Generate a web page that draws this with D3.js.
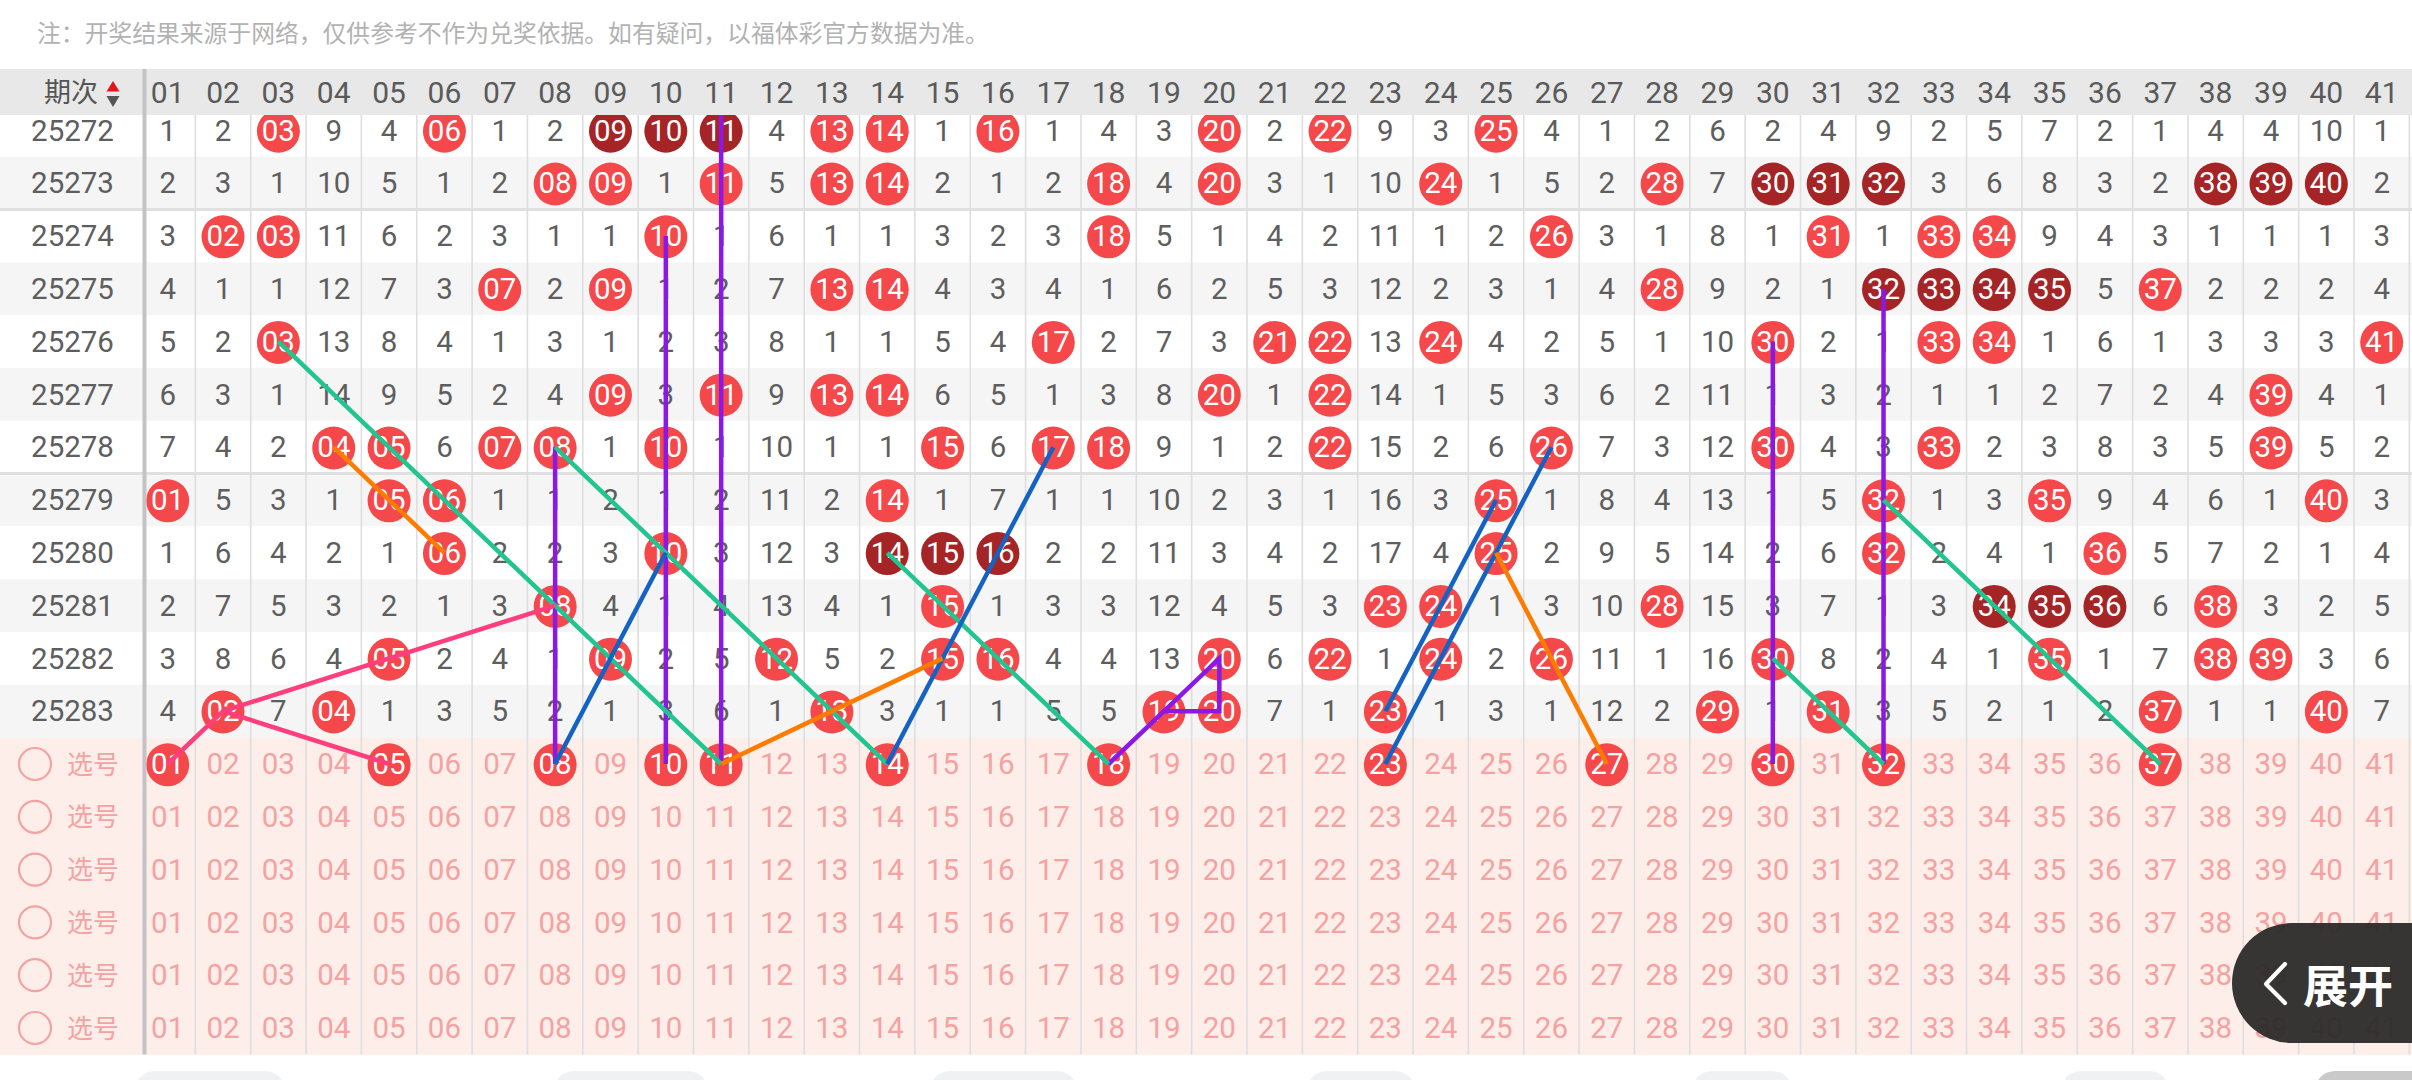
<!DOCTYPE html>
<html><head><meta charset="utf-8">
<script src="https://cdn.jsdelivr.net/npm/d3@7"></script>
<style>html,body{margin:0;padding:0;background:#fff;overflow:hidden}svg{display:block}</style>
</head><body><svg id="c" width="2412" height="1080"></svg>
<script>
// ---------------- data ----------------
const noteText = "注：开奖结果来源于网络，仅供参考不作为兑奖依据。如有疑问，以福体彩官方数据为准。";
const headerLabel = "期次";
const selectLabel = "选号";
const expandLabel = "展开";
const numbers = ["01","02","03","04","05","06","07","08","09","10","11","12","13","14","15","16","17","18","19","20","21","22","23","24","25","26","27","28","29","30","31","32","33","34","35","36","37","38","39","40","41"];
const periods = ["25272","25273","25274","25275","25276","25277","25278","25279","25280","25281","25282","25283"];
// omission per number (0 = drawn in that period)
const r25272 = [1,2,0,9,4,0,1,2,0,0, 0,4,0,0,1,0,1,4,3,0, 2,0,9,3,0,4,1,2,6,2, 4,9,2,5,7,2,1,4,4,10, 1];
const r25273 = [2,3,1,10,5,1,2,0,0,1, 0,5,0,0,2,1,2,0,4,0, 3,1,10,0,1,5,2,0,7,0, 0,0,3,6,8,3,2,0,0,0, 2];
const r25274 = [3,0,0,11,6,2,3,1,1,0, 1,6,1,1,3,2,3,0,5,1, 4,2,11,1,2,0,3,1,8,1, 0,1,0,0,9,4,3,1,1,1, 3];
const r25275 = [4,1,1,12,7,3,0,2,0,1, 2,7,0,0,4,3,4,1,6,2, 5,3,12,2,3,1,4,0,9,2, 1,0,0,0,0,5,0,2,2,2, 4];
const r25276 = [5,2,0,13,8,4,1,3,1,2, 3,8,1,1,5,4,0,2,7,3, 0,0,13,0,4,2,5,1,10,0, 2,1,0,0,1,6,1,3,3,3, 0];
const r25277 = [6,3,1,14,9,5,2,4,0,3, 0,9,0,0,6,5,1,3,8,0, 1,0,14,1,5,3,6,2,11,1, 3,2,1,1,2,7,2,4,0,4, 1];
const r25278 = [7,4,2,0,0,6,0,0,1,0, 1,10,1,1,0,6,0,0,9,1, 2,0,15,2,6,0,7,3,12,0, 4,3,0,2,3,8,3,5,0,5, 2];
const r25279 = [0,5,3,1,0,0,1,1,2,1, 2,11,2,0,1,7,1,1,10,2, 3,1,16,3,0,1,8,4,13,1, 5,0,1,3,0,9,4,6,1,0, 3];
const r25280 = [1,6,4,2,1,0,2,2,3,0, 3,12,3,0,0,0,2,2,11,3, 4,2,17,4,0,2,9,5,14,2, 6,0,2,4,1,0,5,7,2,1, 4];
const r25281 = [2,7,5,3,2,1,3,0,4,1, 4,13,4,1,0,1,3,3,12,4, 5,3,0,0,1,3,10,0,15,3, 7,1,3,0,0,0,6,0,3,2, 5];
const r25282 = [3,8,6,4,0,2,4,1,0,2, 5,0,5,2,0,0,4,4,13,0, 6,0,1,0,2,0,11,1,16,0, 8,2,4,1,0,1,7,0,0,3, 6];
const r25283 = [4,0,7,0,1,3,5,2,1,3, 6,1,0,3,1,1,5,5,0,0, 7,1,0,1,3,1,12,2,0,1, 0,3,5,2,1,2,0,1,1,0, 7];
const rowValues = [r25272,r25273,r25274,r25275,r25276,r25277,r25278,r25279,r25280,r25281,r25282,r25283];
const selectRows = ["s0","s1","s2","s3","s4","s5"];
const selectPicks = [1,5,8,10,11,14,18,23,27,30,32,37];
// trend lines: [number, period]
const purpleLines = [
  [[11,"25271"],[11,"s0"]],
  [[10,"25274"],[10,"s0"]],
  [[8,"25278"],[8,"s0"]],
  [[30,"25276"],[30,"s0"]],
  [[32,"25275"],[32,"s0"]],
  [[18,"s0"],[20,"25282"],[20,"25283"],[19,"25283"]]
];
const greenLines = [
  [[3,"25276"],[11,"s0"]],
  [[8,"25278"],[14,"s0"]],
  [[14,"25280"],[18,"s0"]],
  [[30,"25282"],[32,"s0"]],
  [[32,"25279"],[37,"s0"]]
];
const blueLines = [
  [[8,"s0"],[10,"25280"]],
  [[14,"s0"],[17,"25278"]],
  [[23,"25283"],[25,"25279"]],
  [[23,"s0"],[26,"25278"]]
];
const orangeLines = [
  [[4,"25278"],[6,"25280"]],
  [[11,"s0"],[15,"25282"]],
  [[25,"25280"],[27,"s0"]]
];
const pinkLines = [
  [[8,"25281"],[5,"25282"],[2,"25283"],[1,"s0"]],
  [[2,"25283"],[5,"s0"]]
];

// ---------------- layout ----------------
const W = 2412, H = 1080;
const rowH = 52.8, top0 = 104, headTop = 69, headBot = 115;
const colW = 55.35, colLeft = 140;
const rowKeys = ["25271", ...periods, ...selectRows];
const y = d3.scaleBand().domain(rowKeys).range([top0 - rowH, top0 - rowH + rowKeys.length * rowH]);
const x = d3.scaleBand().domain(numbers).range([colLeft, colLeft + numbers.length * colW]);
const bottom = y("s5") + rowH;
const pad2 = n => String(n).padStart(2, "0");
const cx = n => x(pad2(n)) + x.bandwidth() / 2;
const cy = k => y(k) + rowH / 2;

const C = {
  gray: "#f5f5f5", pinkBg: "#fdeee9", grid: "#dedede", sep: "#c3c3c3",
  text: "#5e5e5e", selText: "#f4a2a2", ball: "#f4484a", ballDark: "#a52426",
  purple: "#8c18e6", green: "#22c490", blue: "#1463c4", orange: "#ff7b00", pink: "#ff3e7d"
};
const svg = d3.select("#c");
const NUMFONT = "Roboto, 'DejaVu Sans', sans-serif";
const CJK = "'Noto Sans CJK SC', sans-serif";

function num(g, xx, yc, str, fill, size) {
  g.append("text")
    .attr("x", xx).attr("y", yc + size * 0.345)
    .attr("text-anchor", "middle")
    .attr("font-family", NUMFONT)
    .attr("font-size", size)
    .attr("fill", fill)
    .text(str);
}

// backgrounds
const bg = svg.append("g");
bg.append("rect").attr("x", 0).attr("y", 0).attr("width", W).attr("height", H).attr("fill", "#fff");
periods.forEach((p, i) => {
  bg.append("rect").attr("x", 0).attr("y", y(p)).attr("width", W).attr("height", rowH)
    .attr("fill", i % 2 === 1 ? C.gray : "#fff");
});
selectRows.forEach(s => {
  bg.append("rect").attr("x", 0).attr("y", y(s)).attr("width", W).attr("height", rowH + 0.5).attr("fill", C.pinkBg);
});
// horizontal separators
[periods[2], periods[7]].forEach(p => {
  bg.append("line").attr("x1", 0).attr("x2", W).attr("y1", y(p)).attr("y2", y(p))
    .attr("stroke", "#e0e0e0").attr("stroke-width", 3);
});
// vertical grid
numbers.slice(1).concat(["end"]).forEach(n => {
  const xx = n === "end" ? x.range()[1] : x(n);
  bg.append("line").attr("x1", xx).attr("x2", xx).attr("y1", headBot).attr("y2", bottom)
    .attr("stroke", C.grid).attr("stroke-width", 1.6);
});

// cells
const cells = svg.append("g");
periods.forEach((p, i) => {
  const vals = rowValues[i];
  num(cells, 72.5, cy(p), p, C.text, 29.5);
  vals.forEach((v, j) => {
    const n = j + 1;
    if (v === 0) {
      // run length of consecutive drawn numbers
      let a = j, b = j;
      while (a > 0 && vals[a - 1] === 0) a--;
      while (b < vals.length - 1 && vals[b + 1] === 0) b++;
      const dark = (b - a + 1) >= 3;
      cells.append("circle").attr("cx", cx(n)).attr("cy", cy(p) + 0.8).attr("r", 21.5)
        .attr("fill", dark ? C.ballDark : C.ball);
      num(cells, cx(n), cy(p), numbers[j], "#fff", 29.5);
    } else {
      num(cells, cx(n), cy(p), String(v), C.text, 29.5);
    }
  });
});
selectRows.forEach((s, i) => {
  cells.append("circle").attr("cx", 35).attr("cy", cy(s)).attr("r", 16)
    .attr("fill", "none").attr("stroke", C.selText).attr("stroke-width", 2.2);
  cells.append("text").attr("x", 67).attr("y", cy(s) + 9.5).attr("font-family", CJK)
    .attr("font-size", 26).attr("fill", C.selText).text(selectLabel);
  numbers.forEach((nm, j) => {
    const n = j + 1;
    if (i === 0 && selectPicks.includes(n)) {
      cells.append("circle").attr("cx", cx(n)).attr("cy", cy(s) + 0.8).attr("r", 21.5).attr("fill", C.ball);
      num(cells, cx(n), cy(s), nm, "#fff", 29.5);
    } else {
      num(cells, cx(n), cy(s), nm, C.selText, 29.5);
    }
  });
});

// trend lines
const lg = svg.append("g").attr("fill", "none").attr("stroke-width", 4.5).attr("stroke-linejoin", "miter");
const line = d3.line().x(d => cx(d[0])).y(d => cy(d[1]));
[[purpleLines, C.purple], [greenLines, C.green], [blueLines, C.blue], [orangeLines, C.orange], [pinkLines, C.pink]]
  .forEach(([set, col]) => {
    set.forEach(pts => lg.append("path").attr("d", line(pts)).attr("stroke", col));
  });

// left separator
svg.append("line").attr("x1", 144.5).attr("x2", 144.5).attr("y1", headTop).attr("y2", bottom)
  .attr("stroke", C.sep).attr("stroke-width", 4);

// header
const hd = svg.append("g");
hd.append("rect").attr("x", 0).attr("y", 0).attr("width", W).attr("height", headTop).attr("fill", "#fff");
hd.append("rect").attr("x", 0).attr("y", headTop).attr("width", W).attr("height", headBot - headTop).attr("fill", "#e8e8e8");
hd.append("line").attr("x1", 144.5).attr("x2", 144.5).attr("y1", headTop).attr("y2", headBot)
  .attr("stroke", C.sep).attr("stroke-width", 4);
hd.append("text").attr("x", 44).attr("y", 102).attr("font-family", CJK).attr("font-size", 27)
  .attr("fill", "#555").text(headerLabel);
hd.append("path").attr("d", "M106.5,91.5 L119.5,91.5 L113,81 Z").attr("fill", "#e8141c");
hd.append("path").attr("d", "M106.5,96 L119.5,96 L113,107 Z").attr("fill", "#555");
numbers.forEach(n => num(hd, cx(+n), 92.5, n, "#5a5a5a", 30));

// note
svg.append("text").attr("x", 37).attr("y", 41.5).attr("font-family", CJK).attr("font-size", 23.8)
  .attr("fill", "#b2b2b2").text(noteText);

// bottom partial buttons
const bt = svg.append("g");
[[135,285],[554,708],[930,1077],[1307,1415],[1692,1792],[2061,2169]].forEach(([a,b]) => {
  bt.append("rect").attr("x", a).attr("y", 1071).attr("width", b - a).attr("height", 40).attr("rx", 20).attr("fill", "#f0f1f3");
});
bt.append("rect").attr("x", 2315).attr("y", 1071).attr("width", 160).attr("height", 40).attr("rx", 20).attr("fill", "#c9c9c9");

// expand button
const eb = svg.append("g");
eb.append("path").attr("d", "M2412,923 H2292 A60,60 0 0 0 2292,1043 H2412 Z")
  .attr("fill", "#2c2a2a").attr("fill-opacity", 0.95);
eb.append("polyline").attr("points", "2285,964 2266,984 2285,1003").attr("fill", "none")
  .attr("stroke", "#fff").attr("stroke-width", 4.2).attr("stroke-linecap", "round").attr("stroke-linejoin", "round");
eb.append("text").attr("x", 2303).attr("y", 1003).attr("font-family", CJK).attr("font-weight", 700)
  .attr("font-size", 45).attr("fill", "#fff").text(expandLabel);
</script></body></html>
